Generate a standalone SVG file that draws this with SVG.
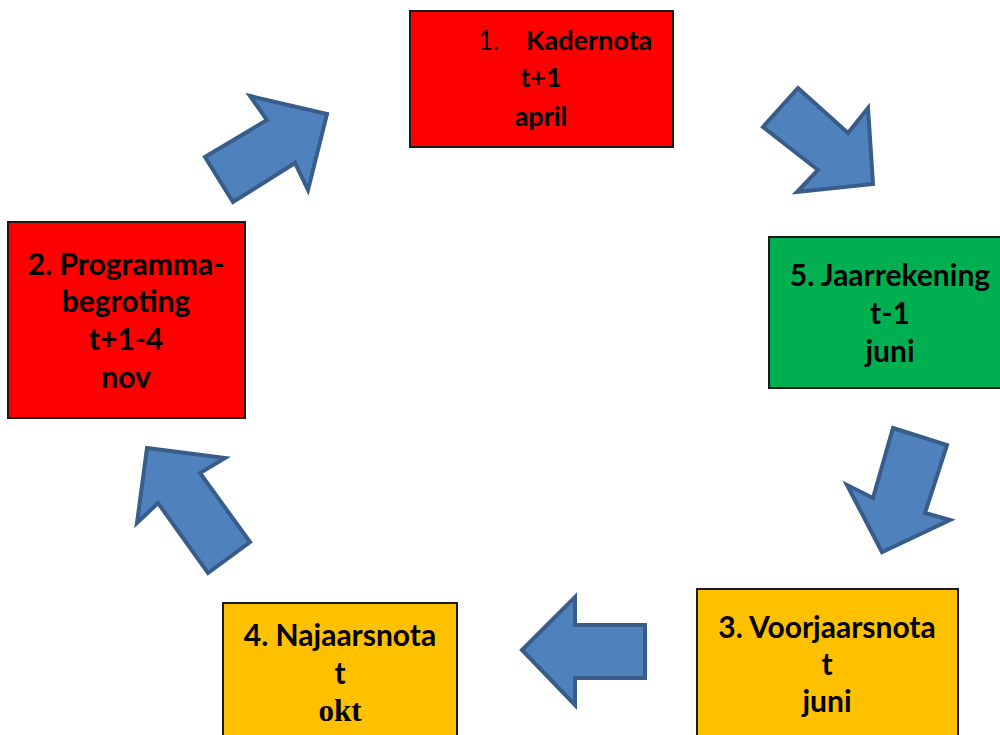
<svg xmlns="http://www.w3.org/2000/svg" width="1000" height="735" viewBox="0 0 1000 735">
<style>
.box{stroke:#1a1a1a;stroke-width:2}
.t{font-family:Lato,"Liberation Sans",sans-serif;font-weight:bold;font-size:30px;fill:#000;text-anchor:middle}
.s{font-size:27px}
.arr{fill:#4f81bd;stroke:#385d8a;stroke-width:4;stroke-linejoin:miter}
</style>
<rect width="1000" height="735" fill="#fff"/>
<g id="kadernota">
<rect class="box" x="410" y="11" width="263" height="136" fill="#ff0000"/>
<text x="478" y="50" style="font-family:Lato,'Liberation Sans',sans-serif;font-size:26px;fill:#000">1.</text>
<text class="t s" x="526" y="50" style="text-anchor:start">Kadernota</text>
<text class="t s" x="541" y="87">t+1</text>
<text class="t s" x="541" y="126">april</text>
</g>
<g id="programmabegroting">
<rect class="box" x="8" y="222" width="237" height="196" fill="#ff0000"/>
<text class="t" x="126" y="275">2. Programma-</text>
<text class="t" x="126" y="312">begroting</text>
<text class="t" x="126" y="350">t+1-4</text>
<text class="t" x="126" y="388">nov</text>
</g>
<g id="jaarrekening">
<rect class="box" x="769" y="237" width="240" height="151" fill="#00b050"/>
<text class="t" x="890" y="286">5. Jaarrekening</text>
<text class="t" x="890" y="324">t-1</text>
<text class="t" x="890" y="362">juni</text>
</g>
<g id="voorjaarsnota">
<rect class="box" x="697" y="589" width="261" height="160" fill="#ffc000"/>
<text class="t" x="827" y="638">3. Voorjaarsnota</text>
<text class="t" x="827" y="675">t</text>
<text class="t" x="827" y="712">juni</text>
</g>
<g id="najaarsnota">
<rect class="box" x="223" y="603" width="234" height="146" fill="#ffc000"/>
<text class="t" x="340" y="646">4. Najaarsnota</text>
<text class="t" x="340" y="684">t</text>
<text x="340" y="721" style="font-family:'Liberation Serif',serif;font-weight:bold;font-size:31px;text-anchor:middle;fill:#000">okt</text>
</g>
<g id="connectors">
<polygon class="arr" points="205,157 233,202 295,163 308,190 327,114 250,96 267,120"/>
<polygon class="arr" points="763,127 798,88 848,133 868,108 873,184 797,192 818,170"/>
<polygon class="arr" points="893,428 947,445 925,513 950,520 882,552 847,485 873,498"/>
<polygon class="arr" points="522,650 575,597 575,625 645,625 645,678 575,678 575,705"/>
<polygon class="arr" points="147,448 225,458 200,473 250,542 208,573 158,503 137,523"/>
</g>
</svg>
